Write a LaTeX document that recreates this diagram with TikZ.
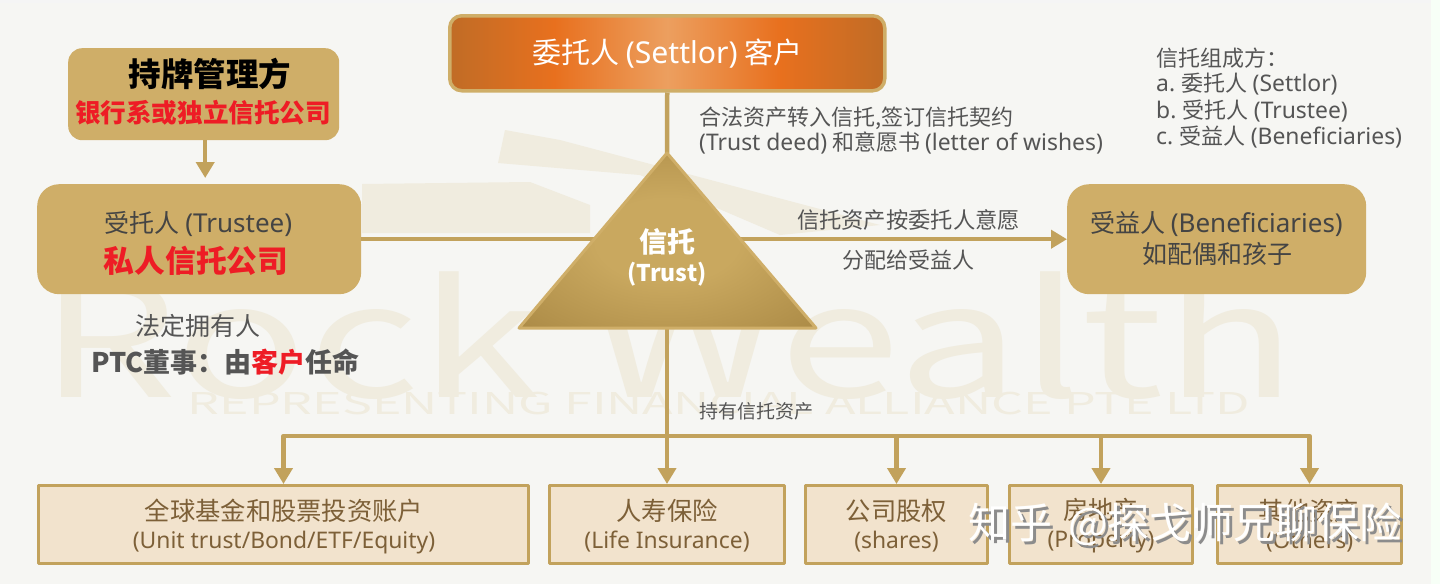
\documentclass[tikz,border=0pt]{standalone}
\usepackage{fontspec}
\usepackage{xcolor}
\setmainfont{Noto Sans CJK SC}
\newfontfamily\lat{Noto Sans}[Scale=1.04]
\definecolor{gold}{HTML}{CFAE68}
\definecolor{goldline}{HTML}{C2A25C}
\definecolor{paper}{HTML}{F6F6F3}
\definecolor{fadeink}{HTML}{F0ECDF}
\definecolor{sand}{HTML}{F2E3CD}
\definecolor{brownink}{HTML}{7D6038}
\definecolor{greyink}{HTML}{555555}
\definecolor{redink}{HTML}{EE1C25}
\definecolor{settloredge}{HTML}{C06C26}
\definecolor{settlorfire}{HTML}{E8701E}
\definecolor{settlorglow}{HTML}{EC9F5F}
\definecolor{trustglow}{HTML}{C9A85F}
\definecolor{trustmid}{HTML}{A07F3C}
\definecolor{trustdark}{HTML}{7F6128}
\usetikzlibrary{arrows.meta}
\pgfdeclarehorizontalshading{settlorshade}{100bp}{
  color(0bp)=(settloredge); color(25bp)=(settloredge); color(37bp)=(settlorfire);
  color(50bp)=(settlorglow); color(63bp)=(settlorfire); color(75bp)=(settloredge); color(100bp)=(settloredge)}
\pgfdeclareradialshading{trustshade}{\pgfpoint{0bp}{0bp}}{
  color(0bp)=(trustglow); color(12bp)=(trustglow); color(45bp)=(trustmid); color(72bp)=(trustdark)}
\tikzset{
  goldbox/.style={fill=gold,rounded corners=#1,anchor=north west},
  assetbox/.style={draw=goldline,fill=sand,line width=3pt,anchor=north west,minimum height=78pt},
  link/.style={draw=goldline,line width=4.5pt},
  arrowlink/.style={link,-{Triangle[length=16pt,width=18pt]}},
  lbl/.style={text=greyink,inner sep=0pt,font=\fontsize{#1}{#1}\selectfont},
  lbl/.default=22,
  boxtext/.style={inner sep=0pt,align=center,font=\fontsize{25.3}{28}\selectfont,text=brownink},
}
\newcommand{\lowline}[1]{{\fontsize{22}{28}\selectfont\lat #1}}
\begin{document}
\begin{tikzpicture}[x=1pt,y=-1pt,line join=round]
\useasboundingbox (0,0) rectangle (1440,584);
\fill[paper] (0,0) rectangle (1440,584);
\fill[black!4] (0,0) rectangle (1440,3);
\fill[green!3!white] (1431,0) rectangle (1440,584);

% faint logo behind everything
\fill[fadeink] (505,130) -- (560,140) -- (880,225) -- (780,235) -- (640,175) -- (498,163) -- cycle;
\fill[fadeink] (362,184) -- (530,182) -- (590,205) -- (590,233) -- (362,233) -- cycle;
\node[text=fadeink,inner sep=0pt,anchor=base,font=\fontsize{158}{158}\selectfont] (wealthmark) at (668,397) {\scalebox{1.38}[1]{Rock Wealth}};
\node[text=fadeink,inner sep=0pt,font=\fontsize{30}{30}\selectfont] (allianceMark) at (719,403) {\scalebox{1.67}[1]{REPRESENTING FINANCIAL ALLIANCE PTE LTD}};

% top box
\node[anchor=north west,inner sep=0pt,minimum width=435pt,minimum height=75pt,rounded corners=12,draw=gold,line width=3.5pt,shading=settlorshade,text=white,font=\fontsize{29}{29}\selectfont] (settlor) at (448,14) {委托人 {\lat (Settlor)} 客户};

% gold boxes on the left and right
\node[goldbox=14,minimum width=271pt,minimum height=92pt] (manager) at (68,48) {};
\node[goldbox=22,minimum width=324pt,minimum height=110pt] (trustee) at (37,184) {};
\node[goldbox=22,minimum width=299pt,minimum height=110pt] (beneficiary) at (1067,184) {};
\node[inner sep=0pt,font=\fontsize{32.5}{32.5}\selectfont\bfseries] (managerA) at (210,74) {持牌管理方};
\node[inner sep=0pt,text=redink,font=\fontsize{25.6}{25.6}\selectfont\bfseries] (managerB) at (203,113) {银行系或独立信托公司};
\node[inner sep=0pt,text=greyink!80!black,font=\fontsize{25}{25}\selectfont] (trusteeA) at (198.5,224) {受托人 {\lat (Trustee)}};
\node[inner sep=0pt,text=redink,font=\fontsize{30.7}{30.7}\selectfont\bfseries] (trusteeB) at (196,261) {私人信托公司};
\node[inner sep=0pt,text=greyink!80!black,font=\fontsize{25}{25}\selectfont] (beneficiaryA) at (1216.5,224) {受益人 {\lat (Beneficiaries)}};
\node[inner sep=0pt,text=greyink!80!black,font=\fontsize{25}{25}\selectfont] (beneficiaryB) at (1217,254) {如配偶和孩子};

% asset boxes
\node[assetbox,minimum width=490pt] (fund) at (37,484) {};
\node[assetbox,minimum width=235pt] (life) at (548,484) {};
\node[assetbox,minimum width=182pt] (shares) at (804,484) {};
\node[assetbox,minimum width=183pt] (property) at (1008,484) {};
\node[assetbox,minimum width=184pt] (others) at (1216,484) {};
\node[boxtext] (fundText) at (284,526) {全球基金和股票投资账户\\\lowline{(Unit trust/Bond/ETF/Equity)}};
\node[boxtext] (lifeText) at (667,526) {人寿保险\\\lowline{(Life Insurance)}};
\node[boxtext] (sharesText) at (896.5,526) {公司股权\\\lowline{(shares)}};
\node[boxtext] (propertyText) at (1101,526) {房地产\\\lowline{(Property)}};
\node[boxtext] (othersText) at (1309.5,526) {其他资产\\\lowline{(Others)}};

% triangle and connectors
\coordinate (apex) at (667,153);
\coordinate (baseL) at (519,328);
\coordinate (baseR) at (816,328);
\coordinate (baseM) at (667,328);
\coordinate (hub) at (667,436);
\draw[link] (settlor.south) -- (apex);
\draw[arrowlink] (trustee.east) -- (beneficiary.west);
\draw[arrowlink,shorten >=6pt] ([xshift=1.5pt]manager.south) -- ([xshift=1.5pt]manager.south |- trustee.north);
\draw[link] (baseM) -- (hub);
\foreach \target in {fund,life,shares,property,others}
  \draw[arrowlink] (hub) -| (\target.north);
\draw[draw=gold,line width=3pt,shading=trustshade] (apex) -- (baseL) -- (baseR) -- cycle;
\node[inner sep=0pt,text=white,font=\fontsize{28}{28}\selectfont\bfseries] (trustA) at (667,242) {信托};
\node[inner sep=0pt,text=white,font=\fontsize{23}{23}\selectfont\bfseries] (trustB) at (667,274) {(Trust)};

% free labels
\node[lbl,anchor=west] (deedA) at (699,118) {合法资产转入信托,签订信托契约};
\node[lbl,anchor=west] (deedB) at (699,143) {{\lat (Trust deed)} 和意愿书 {\lat (letter of wishes)}};
\node[lbl,anchor=west] (partsA) at (1156,58) {信托组成方：};
\node[lbl,anchor=west] (partsB) at (1156,84) {{\lat a.} 委托人 {\lat (Settlor)}};
\node[lbl,anchor=west] (partsC) at (1156,111) {{\lat b.} 受托人 {\lat (Trustee)}};
\node[lbl,anchor=west] (partsD) at (1156,137) {{\lat c.} 受益人 {\lat (Beneficiaries)}};
\node[lbl=22.3] (payA) at (908.5,220) {信托资产按委托人意愿};
\node[lbl] (payB) at (908,260) {分配给受益人};
\node[lbl=25] (ownerA) at (198,326) {法定拥有人};
\node[lbl=27] (ownerB) at (225.5,362) {\bfseries PTC董事：由\textcolor{redink}{客户}任命};
\node[lbl=19,anchor=west] (holdLabel) at (699,411) {持有信托资产};

% site mark
\node[inner sep=0pt,text=black!45,font=\fontsize{42}{42}\selectfont,anchor=west] (siteShadow) at (971,527) {知乎\hspace{16pt}@探戈师兄聊保险};
\node[inner sep=0pt,text=white,font=\fontsize{42}{42}\selectfont,anchor=west] (siteMark) at (968,524) {知乎\hspace{16pt}@探戈师兄聊保险};
\end{tikzpicture}
\end{document}
